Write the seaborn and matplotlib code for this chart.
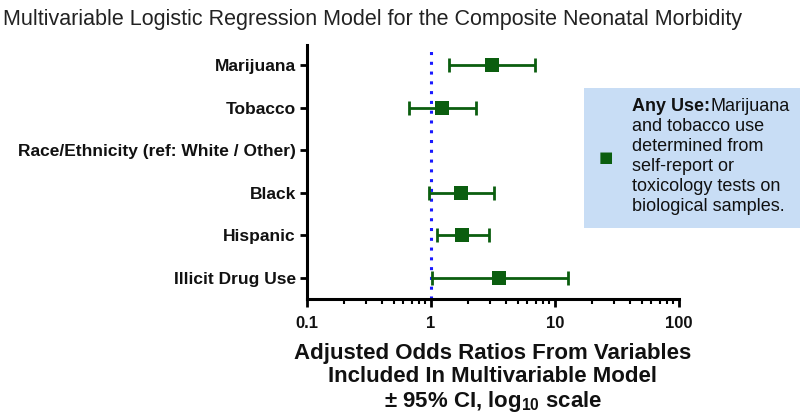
import numpy as np
import pandas as pd
import matplotlib
matplotlib.use("Agg")
import matplotlib.pyplot as plt
from matplotlib.text import Annotation
from matplotlib.ticker import LogLocator, NullFormatter, FixedLocator
import seaborn as sns

# data (adjusted odds ratios, 95% CI)
variables = ["Marijuana", "Tobacco", "Race/Ethnicity (ref: White / Other)",
             "Black", "Hispanic", "Illicit Drug Use"]
odds_ratio = [3.09, 1.23, np.nan, 1.76, 1.79, 3.56]
ci_low = [1.40, 0.66, np.nan, 0.97, 1.11, 1.01]
ci_high = [6.90, 2.31, np.nan, 3.22, 2.94, 12.7]
x_ticks = [0.1, 1, 10, 100]
x_tick_labels = ["0.1", "1", "10", "100"]

df = pd.DataFrame({"variable": variables, "or": odds_ratio,
                   "lo": ci_low, "hi": ci_high})
df["row"] = np.arange(len(df))

sns.set_theme(style="ticks")
plt.rcParams["font.family"] = ["Liberation Sans", "DejaVu Sans"]
plt.rcParams["mathtext.fontset"] = "custom"
plt.rcParams["mathtext.bf"] = "Liberation Sans:bold"
plt.rcParams["mathtext.rm"] = "Liberation Sans"

green = "#0b5e0f"

fig = plt.figure(figsize=(8, 4.18), dpi=100)
ax = fig.add_axes([307 / 800, 1 - 299 / 418, 372 / 800, 254 / 418])

# confidence intervals
ok = df.dropna()
ax.errorbar(ok["or"], ok["row"],
            xerr=[ok["or"] - ok["lo"], ok["hi"] - ok["or"]],
            fmt="none", ecolor=green, elinewidth=2, capsize=5, capthick=2,
            zorder=2)
sns.scatterplot(data=ok, x="or", y="row", marker="s", s=110, color=green,
                edgecolor=green, linewidth=0, ax=ax, zorder=3, legend=False)

ax.axvline(1, color="#1a1aff", linestyle=(0, (1, 2.2)), linewidth=2.2, zorder=1)

ax.set_xscale("log")
ax.set_xlim(0.1, 100)
ax.set_ylim(len(df) - 0.5, -0.48)
ax.xaxis.set_major_locator(FixedLocator(x_ticks))
ax.set_xticklabels(x_tick_labels)
ax.xaxis.set_minor_locator(LogLocator(base=10, subs=np.arange(2, 10)))
ax.xaxis.set_minor_formatter(NullFormatter())
ax.set_yticks(df["row"])
ax.set_yticklabels(df["variable"], fontweight="bold")

for lab in ax.get_xticklabels():
    lab.set_fontweight("bold")
ax.tick_params(axis="both", which="major", labelsize=12, width=2,
               length=6, color="black", labelcolor="#111111")
ax.tick_params(axis="y", which="major", labelsize=12.5, length=5, pad=3)
ax.tick_params(axis="x", which="minor", width=1.5, length=3.5, color="black")
ax.tick_params(axis="x", which="major", pad=6)

sns.despine(ax=ax)
for sp in ["left", "bottom"]:
    ax.spines[sp].set_linewidth(2.2)
    ax.spines[sp].set_color("black")

ax.set_ylabel("")
ax.set_xlabel("Adjusted Odds Ratios From Variables\nIncluded In Multivariable Model\n"
              r"± 95% CI, log$_\mathbf{10}$ scale",
              fontsize=16, fontweight="bold", linespacing=1.12, labelpad=9,
              color="#111111")

fig.text(0.004, 0.978, "Multivariable Logistic Regression Model for the Composite Neonatal Morbidity",
         fontsize=15.5, ha="left", va="top", color="#222222",
         family=["Liberation Sans Narrow", "Liberation Sans", "DejaVu Sans"])

# legend panel
fig.patches.append(plt.Rectangle((584 / 800, 1 - 228 / 418), 216 / 800, 140 / 418,
                                 transform=fig.transFigure, facecolor="#c8ddf5",
                                 edgecolor="none", zorder=0))
fig.text(605.5 / 800, 1 - 158 / 418, "■", color=green, fontsize=11,
         ha="center", va="center", family="DejaVu Sans")
legend_lines = ["and tobacco use", "determined from", "self-report or",
                "toxicology tests on", "biological samples."]
head = fig.text(632 / 800, 1 - 111 / 418, "Any Use:", fontsize=13,
                fontweight="bold", ha="left", va="baseline", color="#111111")
fig.add_artist(Annotation("Marijuana", xy=(1, 0), xycoords=head,
                          xytext=(0, 0), textcoords="offset points",
                          fontsize=13, ha="left", va="bottom",
                          color="#111111", zorder=4))
for i, line in enumerate(legend_lines):
    fig.text(632 / 800, 1 - (131 + 20 * i) / 418, line, fontsize=13,
             ha="left", va="baseline", color="#111111")

fig.savefig("out.png", dpi=100)
